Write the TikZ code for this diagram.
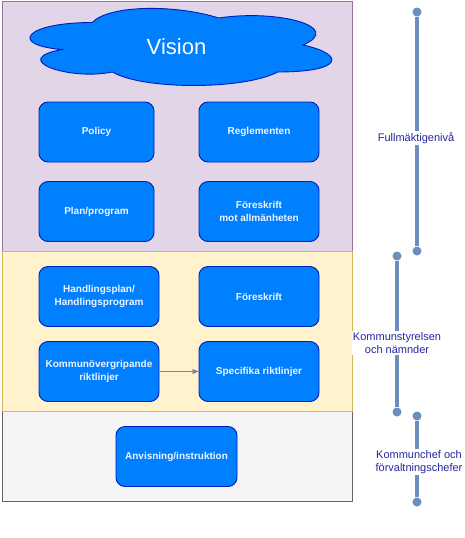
\documentclass[tikz,border=0pt]{standalone}
\usepackage{fontspec}
\setmainfont{Liberation Sans}
\usetikzlibrary{arrows.meta}
\definecolor{boxfill}{HTML}{007FFF}
\definecolor{boxline}{HTML}{001DBC}
\definecolor{purfill}{HTML}{E1D5E7}
\definecolor{purline}{HTML}{9673A6}
\definecolor{yelfill}{HTML}{FFF2CC}
\definecolor{yelline}{HTML}{D6B656}
\definecolor{grayfill}{HTML}{F5F5F5}
\definecolor{grayline}{HTML}{666666}
\definecolor{tline}{HTML}{6C8EBF}
\definecolor{tlabel}{HTML}{2626A0}
\definecolor{arrowc}{HTML}{7C84AA}
\definecolor{boxtext}{HTML}{F0F4FF}
\begin{document}
\begin{tikzpicture}[x=1pt,y=-1pt,
  panel/.style={line width=0.9pt},
  docbox/.style={draw=boxline, fill=boxfill, rounded corners=9pt, line width=0.9pt,
    text=boxtext, font=\bfseries\fontsize{10}{12.5}\selectfont, align=center,
    inner sep=0pt, minimum height=60pt},
  lvl/.style={line width=3.5pt, draw=tline},
  lvldot/.style={circle, fill=tline, inner sep=0pt, minimum size=9pt},
  lvllabel/.style={fill=white, text=tlabel, font=\fontsize{11}{13}\selectfont,
    align=center, inner sep=1pt}]
\useasboundingbox (0,0) rectangle (465,538);
\fill[white] (0,0) rectangle (465,538);

% panels
\draw[panel, draw=purline, fill=purfill] (2,1) rectangle (352,251);
\draw[panel, draw=grayline, fill=grayfill] (2,411) rectangle (352,501);
\draw[panel, draw=yelline, fill=yelfill] (2,251) rectangle (352,411);

% cloud
\draw[draw=boxline, fill=boxfill, line width=0.9pt]
  (92.25,22.5) .. controls (24.85,22.5) and (8,45) .. (61.92,49.5)
  .. controls (8,59.4) and (68.66,81) .. (112.47,72)
  .. controls (142.8,90) and (243.9,90) .. (277.6,72)
  .. controls (345,72) and (345,54) .. (302.875,45)
  .. controls (345,27) and (277.6,9) .. (218.625,18)
  .. controls (176.5,4.5) and (109.1,4.5) .. (92.25,22.5) -- cycle;
\node[text=white, font=\fontsize{22}{26}\selectfont] (vision) at (176.5,47) {Vision};

% boxes
\node[docbox, minimum width=115pt] (policy) at (96.5,132) {Policy};
\node[docbox, minimum width=120pt] (regl) at (259,132) {Reglementen};
\node[docbox, minimum width=115pt] (plan) at (96.5,211.5) {Plan/program};
\node[docbox, minimum width=120pt] (fora) at (259,211.5) {Föreskrift\\mot allmänheten};
\node[docbox, minimum width=120pt] (handl) at (99,296.5) {Handlingsplan/\\Handlingsprogram};
\node[docbox, minimum width=120pt] (fors) at (259,296.5) {Föreskrift};
\node[docbox, minimum width=120pt] (komm) at (99,371.5) {Kommunövergripande\\riktlinjer};
\node[docbox, minimum width=120pt] (spec) at (259,371.5) {Specifika riktlinjer};
\node[docbox, minimum width=121pt] (anv) at (176.5,456.5) {Anvisning/instruktion};

\draw[draw=arrowc, line width=0.8pt, -{Triangle[length=6pt,width=5pt]}] (komm.east) -- (spec.west);

% levels
\node[lvldot] (f1) at (417,12) {};
\node[lvldot] (f2) at (417,251) {};
\draw[lvl] (f1) -- (f2);
\node[lvllabel] (fl) at (416,138) {Fullmäktigenivå};

\node[lvldot] (k1) at (397,256) {};
\node[lvldot] (k2) at (397,412) {};
\draw[lvl] (k1) -- (k2);
\node[lvllabel] (kl) at (397,343) {Kommunstyrelsen\\och nämnder};

\node[lvldot] (c1) at (417,416) {};
\node[lvldot] (c2) at (417,502) {};
\draw[lvl] (c1) -- (c2);
\node[lvllabel] (cl) at (419,462) {Kommunchef och\\förvaltningschefer};
\end{tikzpicture}
\end{document}
